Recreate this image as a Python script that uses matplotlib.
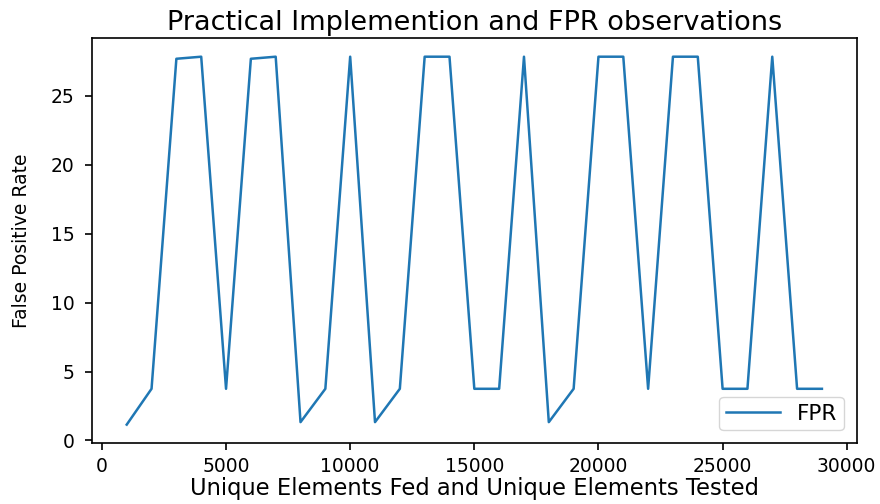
import numpy as np
import matplotlib
matplotlib.use("Agg")
import matplotlib.pyplot as plt

# unique elements fed / tested, one point per 1000
elements = [1000, 2000, 3000, 4000, 5000, 6000, 7000, 8000, 9000, 10000,
            11000, 12000, 13000, 14000, 15000, 16000, 17000, 18000, 19000, 20000,
            21000, 22000, 23000, 24000, 25000, 26000, 27000, 28000, 29000]
fpr = [1.15, 3.75, 27.7, 27.85, 3.75, 27.7, 27.85, 1.33, 3.75, 27.85,
       1.33, 3.75, 27.85, 27.85, 3.75, 3.75, 27.85, 1.33, 3.75, 27.85,
       27.85, 3.75, 27.85, 27.85, 3.75, 3.75, 27.85, 3.75, 3.75]

plt.rcParams["font.family"] = ["DejaVu Sans"]

fig = plt.figure(figsize=(8.8, 5.04), dpi=100)
ax = fig.add_axes([0.1045, 0.121, 0.869, 0.803])
ax.plot(elements, fpr, color="#1f77b4", lw=1.8, label="FPR")

ax.set_title("Practical Implemention and FPR observations", fontsize=19.5, pad=6)
ax.set_xlabel("Unique Elements Fed and Unique Elements Tested", fontsize=16.3, labelpad=1)
ax.set_ylabel("False Positive Rate", fontsize=13.5, labelpad=14)
ax.tick_params(labelsize=13.5, width=1.2, length=5)
ax.tick_params(axis="y", pad=7.5)
ax.tick_params(axis="x", pad=5)
for s in ax.spines.values():
    s.set_linewidth(1.2)
ax.legend(loc="lower right", fontsize=15.5, handlelength=2.5, borderpad=0.3,
          borderaxespad=0.6)

fig.savefig("out.png", dpi=100)
